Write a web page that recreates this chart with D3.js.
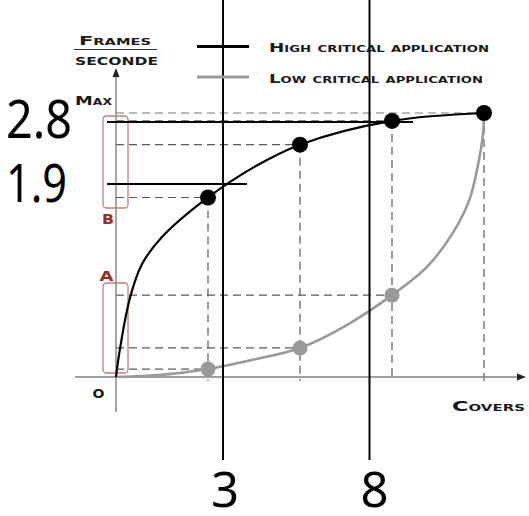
<!DOCTYPE html>
<html>
<head>
<meta charset="utf-8">
<script src="https://cdn.jsdelivr.net/npm/d3@7"></script>
<style>
  html, body { margin: 0; padding: 0; background: #fff; }
  svg { display: block; }
  .caps { font-family: "DejaVu Sans", sans-serif; font-weight: bold; font-variant: small-caps; fill: #1a1a1a; }
  .big { font-family: "Noto Sans", sans-serif; fill: #000; }
</style>
</head>
<body>
<svg id="chart" width="529" height="516"></svg>
<script>
// Cover levels where the frame rate was measured (relative units on the covers axis)
const coverSteps = [1, 2, 3, 4];
// Frame rate relative to Max (0 = origin, 1 = Max)
const highValues = [0.68, 0.88, 0.97, 1.0];
const lowValues = [0.03, 0.11, 0.31, 1.0];

// Traced outline of each response curve [covers, frames/second]
const highCurve = [[0, 0], [0.04, 0.1], [0.152, 0.3], [0.283, 0.428],
  [0.5, 0.53], [1, 0.68], [1.5, 0.795], [2, 0.88], [3, 0.97], [4, 1.0]];
const lowCurve = [[0, 0], [0.5, 0.008], [1, 0.03], [1.5, 0.066], [2, 0.11], [2.5, 0.195], [3, 0.31],
  [3.38, 0.417], [3.66, 0.545], [3.84, 0.67], [3.93, 0.795], [3.99, 0.924], [4, 1.0]];

// Worked example: covers count and the frame rate read on the high critical curve
const exampleCovers = [3, 8];
const exampleFps = [1.9, 2.8];
const coverLabels = ["3", "8"];
const fpsLabels = ["1.9", "2.8"];

// Legend entries
const seriesNames = ["High critical application", "Low critical application"];
const seriesColors = ["#000000", "#999999"];

const svg = d3.select("#chart");

const x = d3.scaleLinear().domain([0, 4]).range([116, 484]);
const y = d3.scaleLinear().domain([0, 1]).range([377, 113]);

// Scales for the worked-example overlay (covers count / frames per second)
const exX = d3.scaleLinear().domain([3, 8]).range([223, 369.5]);
const exY = d3.scaleLinear().domain([1.9, 2.8]).range([184, 122]);

const dash = "8,5";
const dashColor = "#5a5a5a";

// Projection lines from each measured point to both axes
const drop = svg.append("g").attr("stroke", dashColor).attr("stroke-width", 1.2)
  .attr("stroke-dasharray", dash).attr("fill", "none");
coverSteps.forEach((c, i) => {
  drop.append("line")
    .attr("x1", x(0)).attr("x2", x(c))
    .attr("y1", y(highValues[i])).attr("y2", y(highValues[i]))
    .attr("stroke", i === 3 ? "#777" : dashColor);
  drop.append("line")
    .attr("x1", x(c)).attr("x2", x(c))
    .attr("y1", y(highValues[i])).attr("y2", y(0) + 4);
  if (i < 3) {
    drop.append("line")
      .attr("x1", x(0)).attr("x2", x(c))
      .attr("y1", y(lowValues[i])).attr("y2", y(lowValues[i]));
  }
});

// Axes with arrow heads
const axisColor = "#808080";
const axes = svg.append("g").attr("stroke", axisColor).attr("stroke-width", 1.4);
axes.append("line").attr("x1", x(0) - 41).attr("x2", 519).attr("y1", y(0)).attr("y2", y(0));
axes.append("line").attr("x1", x(0)).attr("x2", x(0)).attr("y1", y(0) + 35).attr("y2", 76);
svg.append("path")
  .attr("d", `M526,${y(0)} L517,${y(0) - 3.5} L517,${y(0) + 3.5} Z`)
  .attr("fill", "#222");
svg.append("path")
  .attr("d", `M${x(0)},68 L${x(0) - 3.5},77 L${x(0) + 3.5},77 Z`)
  .attr("fill", "#222");

// Bands A and B on the frame-rate axis
const bandColor = "#c0807a";
const bands = [
  { name: "B", top: 116, bottom: 208, lx: 102, ly: 223.5 },
  { name: "A", top: 283, bottom: 373, lx: 99.5, ly: 280.5 }
];
bands.forEach(b => {
  svg.append("rect")
    .attr("x", 103).attr("y", b.top)
    .attr("width", 25).attr("height", b.bottom - b.top)
    .attr("rx", 3.5).attr("fill", "none")
    .attr("stroke", bandColor).attr("stroke-width", 1.3);
  svg.append("text")
    .attr("x", b.lx).attr("y", b.ly)
    .attr("fill", "#9a2c1c")
    .attr("font-family", "DejaVu Sans, sans-serif")
    .attr("font-weight", "bold")
    .attr("font-size", 14.5)
    .attr("textLength", b.name === "A" ? 14 : 12).attr("lengthAdjust", "spacingAndGlyphs")
    .text(b.name);
});

// Response curves
const line = d3.line().x(d => x(d[0])).y(d => y(d[1])).curve(d3.curveCatmullRom.alpha(0.5));
svg.append("path").datum(lowCurve).attr("d", line)
  .attr("fill", "none").attr("stroke", seriesColors[1]).attr("stroke-width", 2.6);
svg.append("path").datum(highCurve).attr("d", line)
  .attr("fill", "none").attr("stroke", seriesColors[0]).attr("stroke-width", 2.2);

// Worked-example overlay lines
const ex = svg.append("g").attr("stroke", "#000").attr("stroke-width", 2);
exampleCovers.forEach(c => {
  ex.append("line").attr("x1", exX(c)).attr("x2", exX(c)).attr("y1", 0).attr("y2", 460);
});
ex.append("line").attr("x1", 107).attr("x2", 413).attr("y1", exY(exampleFps[1])).attr("y2", exY(exampleFps[1]));
ex.append("line").attr("x1", 107).attr("x2", 247).attr("y1", exY(exampleFps[0])).attr("y2", exY(exampleFps[0]));

// Measured points
svg.append("g").selectAll("circle").data(coverSteps.slice(0, 3)).join("circle")
  .attr("cx", d => x(d)).attr("cy", (d, i) => y(lowValues[i]))
  .attr("r", 7.5).attr("fill", seriesColors[1]);
svg.append("g").selectAll("circle").data(coverSteps).join("circle")
  .attr("cx", d => x(d)).attr("cy", (d, i) => y(highValues[i]))
  .attr("r", 8).attr("fill", seriesColors[0]);

// Legend
seriesNames.forEach((name, i) => {
  const ly = [46.5, 77][i];
  svg.append("line").attr("x1", 197).attr("x2", 249).attr("y1", ly).attr("y2", ly)
    .attr("stroke", seriesColors[i]).attr("stroke-width", 3.2);
  svg.append("text").attr("class", "caps")
    .attr("x", 269).attr("y", ly + 5.5)
    .attr("font-size", 12.5)
    .attr("textLength", [220, 214][i]).attr("lengthAdjust", "spacingAndGlyphs")
    .text(name);
});

// Axis titles
svg.append("text").attr("class", "caps").attr("x", 79).attr("y", 44.5)
  .attr("font-size", 11.5).attr("textLength", 72).attr("lengthAdjust", "spacingAndGlyphs")
  .text("Frames");
svg.append("line").attr("x1", 74).attr("x2", 157).attr("y1", 49.5).attr("y2", 49.5)
  .attr("stroke", "#333").attr("stroke-width", 1.2);
svg.append("text").attr("class", "caps").attr("x", 75).attr("y", 64.5)
  .attr("font-size", 14).attr("textLength", 83).attr("lengthAdjust", "spacingAndGlyphs")
  .text("seconde");
svg.append("text").attr("class", "caps").attr("x", 75).attr("y", 105)
  .attr("font-size", 11.5).attr("textLength", 37).attr("lengthAdjust", "spacingAndGlyphs")
  .text("Max");
svg.append("text").attr("class", "caps").attr("x", 452).attr("y", 410.5)
  .attr("font-size", 13.5).attr("textLength", 73).attr("lengthAdjust", "spacingAndGlyphs")
  .text("Covers");
svg.append("text").attr("class", "caps").attr("x", 92.5).attr("y", 397.5)
  .attr("font-size", 12.5).attr("textLength", 12).attr("lengthAdjust", "spacingAndGlyphs")
  .text("O");

// Worked-example labels
exampleCovers.forEach((c, i) => {
  svg.append("text").attr("class", "big")
    .attr("x", exX(c) + [2, 5][i]).attr("y", 507)
    .attr("text-anchor", "middle").attr("font-size", 49)
    .text(coverLabels[i]);
});
exampleFps.forEach((v, i) => {
  svg.append("text").attr("class", "big")
    .attr("x", 6).attr("y", [202, 138][i])
    .attr("font-size", 53)
    .attr("textLength", [61, 66][i]).attr("lengthAdjust", "spacingAndGlyphs")
    .text(fpsLabels[i]);
});
</script>
</body>
</html>
